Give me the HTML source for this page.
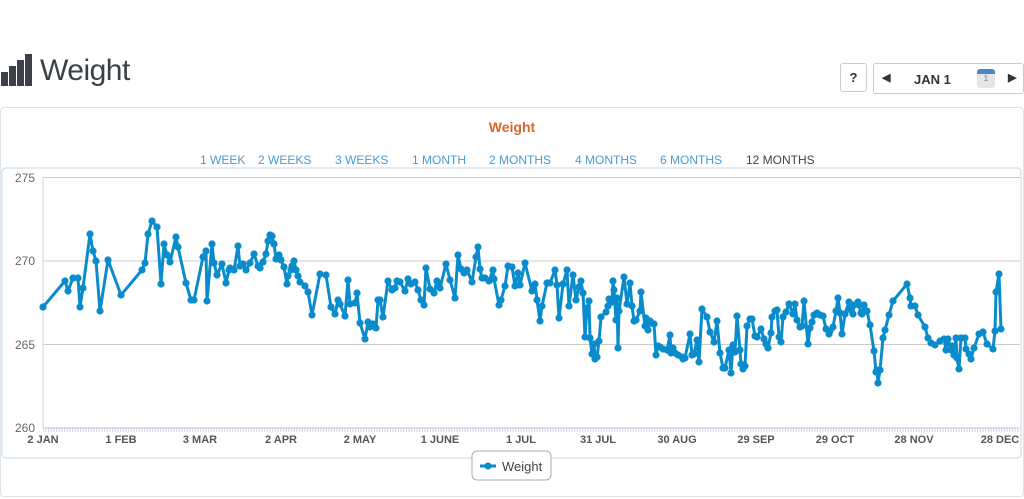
<!DOCTYPE html>
<html><head><style>
body{margin:0;width:1024px;height:499px;background:#fff;font-family:"Liberation Sans",sans-serif;overflow:hidden;position:relative}
.t{position:absolute}
</style></head><body>
<div class="t" style="left:1px;top:56px">
 <div class="t" style="left:0;top:16px;width:7px;height:14px;background:#3c4148"></div>
 <div class="t" style="left:8px;top:10px;width:7px;height:20px;background:#3c4148"></div>
 <div class="t" style="left:16px;top:4px;width:7px;height:26px;background:#3c4148"></div>
 <div class="t" style="left:24px;top:-2px;width:7px;height:32px;background:#3c4148"></div>
</div>
<div class="t" style="left:40px;top:54px;font-size:30px;color:#3c4148;letter-spacing:-0.5px">Weight</div>
<div class="t" style="left:840px;top:63px;width:25px;height:27px;border:1px solid #ccc;border-radius:3px;font-size:13px;font-weight:bold;text-align:center;line-height:27px;color:#333">?</div>
<div class="t" style="left:873px;top:63px;width:149px;height:29px;border:1px solid #ccc;border-radius:3px;font-size:13px;font-weight:bold;color:#333">
 <span class="t" style="left:8px;top:7px;font-size:11px">◀</span>
 <span class="t" style="left:40px;top:8px">JAN 1</span>
 <span class="t" style="left:103px;top:5px;width:18px;height:19px;background:#e6e6e6;border-top:5px solid #4a86c5;box-sizing:border-box;border-radius:3px;font-size:8px;text-align:center;color:#777;font-weight:normal">1</span>
 <span class="t" style="left:134px;top:7px;font-size:11px">▶</span>
</div>
<div class="t" style="left:0;top:107px;width:1022px;height:388px;border:1px solid #dde3e8;border-radius:4px"></div>
<div class="t" style="left:0;top:119px;width:1024px;text-align:center;color:#e0642e;font-weight:bold;font-size:14px">Weight</div>
<div class="t" style="top:153px;font-size:12px;color:#4a9ad1;left:0;width:1024px">
 <span class="t" style="left:200px">1 WEEK</span><span class="t" style="left:258px">2 WEEKS</span><span class="t" style="left:335px">3 WEEKS</span><span class="t" style="left:412px">1 MONTH</span><span class="t" style="left:489px">2 MONTHS</span><span class="t" style="left:575px">4 MONTHS</span><span class="t" style="left:660px">6 MONTHS</span><span class="t" style="left:746px;color:#444">12 MONTHS</span>
</div>
<svg class="t" style="left:0;top:0" width="1024" height="499">
<defs><pattern id="tk" width="2.67" height="5" patternUnits="userSpaceOnUse"><rect width="1" height="5" fill="#c8d4e4"/></pattern></defs>
<rect x="2" y="168" width="1019" height="290" rx="4" fill="none" stroke="#c8d4e4"/>
<line x1="43" x2="1020" y1="177.5" y2="177.5" stroke="#ccc"/>
<line x1="43" x2="1020" y1="261" y2="261" stroke="#ccc"/>
<line x1="43" x2="1020" y1="344.5" y2="344.5" stroke="#ccc"/>
<line x1="43" x2="1020" y1="428" y2="428" stroke="#ccc"/>
<line x1="43" x2="43" y1="177" y2="428" stroke="#c8d4e4"/>
<rect x="43" y="427" width="977" height="5" fill="url(#tk)"/>
<g font-size="12" fill="#666" text-anchor="end"><text x="35" y="182">275</text><text x="35" y="265">270</text><text x="35" y="349">265</text><text x="35" y="432">260</text></g>
<g font-size="11" fill="#555" font-weight="bold" text-anchor="middle">
<text x="43" y="443">2 JAN</text><text x="121" y="443">1 FEB</text><text x="200" y="443">3 MAR</text><text x="281" y="443">2 APR</text><text x="360" y="443">2 MAY</text><text x="440" y="443">1 JUNE</text><text x="521" y="443">1 JUL</text><text x="598" y="443">31 JUL</text><text x="677" y="443">30 AUG</text><text x="756" y="443">29 SEP</text><text x="835" y="443">29 OCT</text><text x="914" y="443">28 NOV</text><text x="1000" y="443">28 DEC</text></g>
<g id="ser"></g>
<rect x="472" y="451" width="79" height="29" rx="5" fill="#fff" stroke="#aaa"/>
<line x1="480" x2="496" y1="466" y2="466" stroke="#0a8ccc" stroke-width="3"/><circle cx="488" cy="466" r="3.5" fill="#0a8ccc"/>
<text x="502" y="471" font-size="13" fill="#444">Weight</text>
</svg>
<script>
var p=[43,307,65,281,68,291,73,278,78,278,80,307,83,288,90,234,93,251,96,261,100,311,108,260,121,295,142,270,145,263,148,234,152,221,157,227,161,284,164,244,167,255,170,262,176,237,178,247,186,283,191,300,194,300,203,257,206,251,207,301,212,244,214,263,217,275,222,264,226,283,229,270,230,268,234,270,238,246,240,266,243,264,246,270,250,263,254,254,258,266,260,268,263,262,266,254,268,241,270,235,272,236,274,244,276,259,279,255,281,260,284,267,287,284,288,276,291,270,292,266,294,261,296,270,298,276,300,282,305,286,308,292,312,315,320,274,326,275,331,307,335,314,338,300,340,304,345,316,348,280,350,304,355,303,357,293,360,323,365,339,368,322,370,327,373,324,376,328,378,300,380,300,383,317,388,281,392,290,395,288,397,281,400,282,405,291,408,279,411,284,415,282,418,290,421,300,424,305,426,268,430,289,434,293,437,281,440,288,446,264,450,280,455,298,458,255,461,269,464,273,467,270,472,282,476,257,478,247,480,269,482,278,485,278,489,281,493,270,494,279,499,305,501,300,505,286,508,266,512,267,515,286,518,273,520,285,525,263,532,291,535,284,537,300,540,321,542,306,547,283,550,283,555,270,557,285,559,318,563,284,567,270,569,306,573,275,576,300,579,287,581,281,583,293,585,337,587,308,589,301,590,338,592,354,594,344,595,359,597,357,599,341,601,317,606,312,608,306,609,299,612,302,613,281,614,290,616,320,617,298,618,348,619,311,624,277,627,304,630,283,632,306,634,321,636,320,640,311,641,292,645,326,646,318,648,330,650,321,651,323,654,324,656,355,658,346,660,347,663,349,667,350,670,335,671,353,673,348,675,353,678,355,682,357,683,359,685,358,690,334,692,355,694,354,697,340,699,362,702,309,707,317,710,332,714,342,717,321,720,353,723,368,725,368,729,350,731,373,733,345,735,352,737,316,740,350,741,364,743,369,745,366,747,326,750,319,752,319,755,336,757,337,761,329,764,339,766,344,768,348,771,333,772,317,775,311,777,310,779,337,781,342,783,317,786,312,789,304,793,314,795,304,797,320,800,327,802,326,804,301,808,344,810,328,812,322,814,315,817,313,820,315,823,316,826,329,829,334,830,331,833,327,836,311,838,298,840,313,842,334,845,314,849,302,851,310,853,314,854,305,858,302,859,305,861,313,862,314,864,305,867,311,870,325,874,351,876,372,877,370,878,383,880,370,883,338,885,330,889,315,893,301,907,284,910,298,911,306,915,306,918,315,925,327,928,338,931,343,935,345,940,341,944,339,946,350,948,339,951,350,952,346,954,355,956,338,957,358,959,369,961,338,965,338,966,349,969,354,971,359,974,348,979,334,983,332,987,344,993,349,995,331,996,292,999,274,1001,329];
var s='',c='';for(var i=0;i<p.length;i+=2){s+=(i?'L':'M')+p[i]+' '+p[i+1];c+='<circle cx="'+p[i]+'" cy="'+p[i+1]+'" r="3.6"/>';}
document.getElementById('ser').innerHTML='<path d="'+s+'" fill="none" stroke="#0a8ccc" stroke-width="3" stroke-linejoin="round"/><g fill="#0a8ccc">'+c+'</g>';
</script>
</body></html>
